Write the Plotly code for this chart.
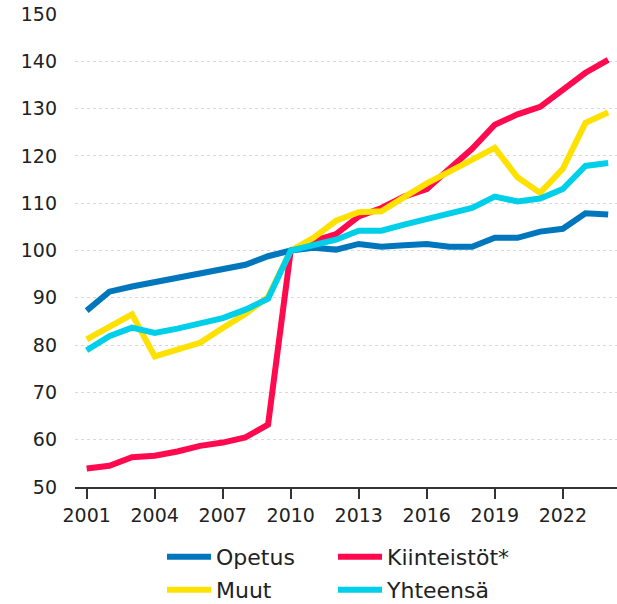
import plotly.graph_objects as go

years = list(range(2001, 2025))
opetus = [87.3, 91.3, 92.4, 93.3, 94.0, 95.0, 95.8, 97.0, 98.8, 100.0,
          100.6, 100.2, 101.4, 100.8, 101.1, 101.4, 100.8, 100.8, 102.7, 102.7,
          104.0, 104.6, 107.9, 107.6]
kiinteistot = [53.9, 54.5, 56.3, 56.6, 57.5, 58.7, 59.4, 60.5, 63.2, 100.0,
               102.0, 103.5, 107.2, 109.0, 111.4, 113.0, 117.3, 121.5, 126.6, 128.8,
               130.4, 134.1, 137.6, 140.3]
muut = [81.2, 83.8, 86.5, 77.6, 78.9, 80.5, 83.6, 86.6, 90.2, 100.0,
        102.7, 106.3, 108.1, 108.3, 111.3, 114.2, 116.7, 119.2, 121.7, 115.5,
        112.2, 117.3, 127.0, 129.2]
yhteensa = [78.9, 81.9, 83.7, 82.6, 83.5, 84.7, 85.7, 87.5, 89.8, 100.0,
            101.0, 102.3, 104.2, 104.2, 105.5, 106.7, 107.6, 109.0, 111.4, 110.4,
            111.0, 113.0, 117.9, 118.5]

colors = {"Opetus": "#0077BD", "Kiinteistöt*": "#FF0A4E", "Muut": "#FFE100", "Yhteensä": "#00CFEA"}
x_ticks = [2001, 2004, 2007, 2010, 2013, 2016, 2019, 2022]
y_ticks = [50, 60, 70, 80, 90, 100, 110, 120, 130, 140, 150]

FONT = "DejaVu Sans"
TXT = "#222222"
W, H = 617, 604
fig = go.Figure()
# draw order (bottom -> top): red, yellow, blue, cyan; each entry gets its own legend box
# (name, values, legend id, legend x px, legend y px)
specs = [
    ("Kiinteistöt*", kiinteistot, "legend2", 333, 557),
    ("Muut", muut, "legend3", 162, 590),
    ("Opetus", opetus, "legend", 162, 557),
    ("Yhteensä", yhteensa, "legend4", 333, 590),
]
legends = {}
for name, vals, leg, lx, ly in specs:
    fig.add_trace(go.Scatter(
        x=years, y=vals, name=name, mode="lines",
        line=dict(color=colors[name], width=6, shape="linear"),
        legend=leg, hoverinfo="x+y+name",
    ))
    legends[leg] = dict(
        orientation="h", xref="container", yref="container",
        xanchor="left", yanchor="middle", x=lx / W, y=1 - ly / H,
        font=dict(family=FONT, size=22, color=TXT),
        itemwidth=44, bgcolor="rgba(0,0,0,0)", borderwidth=0,
    )

fig.update_layout(
    width=W, height=H,
    margin=dict(l=75, r=0, t=14, b=116.5, autoexpand=False),
    plot_bgcolor="white", paper_bgcolor="white",
    font=dict(family=FONT, size=19, color=TXT),
    showlegend=True,
    xaxis=dict(
        range=[2000.485, 2024.39], tickvals=x_ticks, ticktext=[str(t) for t in x_ticks],
        showgrid=False, zeroline=False, automargin=False,
        showline=True, linecolor="#333", linewidth=1.5,
        ticks="outside", ticklen=10, tickwidth=1.5, tickcolor="#333",
        tickfont=dict(family=FONT, size=19, color=TXT),
    ),
    yaxis=dict(
        range=[50, 150.02], tickvals=y_ticks,
        showgrid=True, gridcolor="#d9d9d9", griddash="dot", gridwidth=1,
        zeroline=False, showline=False, ticks="", ticklabelstandoff=17, automargin=False,
        ticklabeloverflow="allow",
        tickfont=dict(family=FONT, size=19, color=TXT),
    ),
    **legends,
)
fig.write_html(
    "out.html",
    config={"displayModeBar": False},
    post_script="document.body.style.margin='0';document.body.style.overflow='hidden';",
)
